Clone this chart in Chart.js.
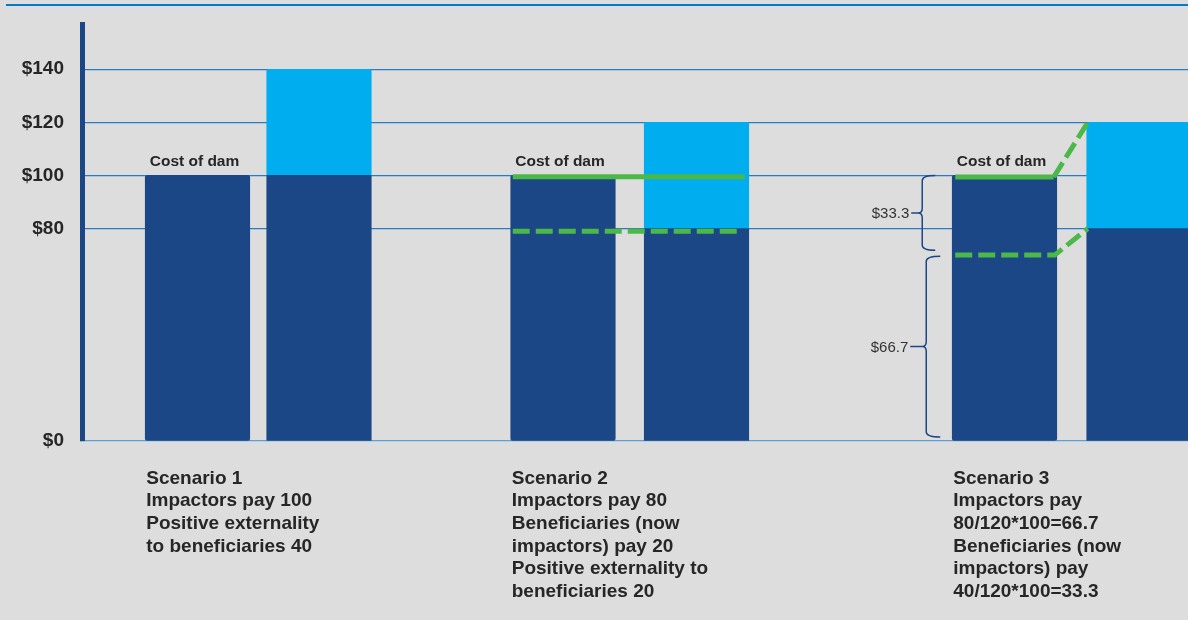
<!DOCTYPE html>
<html><head><meta charset="utf-8">
<script src="https://cdn.jsdelivr.net/npm/chart.js@4/dist/chart.umd.min.js"></script>
<style>html,body{margin:0;padding:0;background:#dddddd;} #wrap{width:1188px;height:620px;position:relative;}</style>
</head><body><div id="wrap"><canvas id="c" width="1188" height="620"></canvas></div>
<script>
// ---- data ----
const barSlots = [0.9506, 1.9506, 3.9588, 5.0576, 7.5926, 8.6996]; // x-scale units (bar slots)
const impactorsPay = [100, 100, 100, 80, 100, 80];
const externality = [0, 40, 0, 40, 0, 40];
const yTicks = [0, 80, 100, 120, 140];
const costLabel = 'Cost of dam';
const costBarIndex = [0, 2, 4];
const scenarioLabels = [
  ['Scenario 1', 'Impactors pay 100', 'Positive externality', 'to beneficiaries 40'],
  ['Scenario 2', 'Impactors pay 80', 'Beneficiaries (now', 'impactors) pay 20', 'Positive externality to', 'beneficiaries 20'],
  ['Scenario 3', 'Impactors pay', '80/120*100=66.7', 'Beneficiaries (now', 'impactors) pay', '40/120*100=33.3']
];
const greenSolid = [99.5, 99.4];   // scenario 2, scenario 3
const greenDashed = [79, 70];      // scenario 2, scenario 3
const braceRanges = [[100, 71.8], [69.6, 1.5]];
const braceLabels = ['$33.3', '$66.7'];

const DARK = '#1b4787', LIGHT = '#00adee', GREEN = '#4cb848', GRID = '#2a7cc1';
const FONT = '"Liberation Sans", Arial, sans-serif';

const overlay = {
  id: 'overlay',
  beforeDraw(chart) {
    const ctx = chart.ctx;
    ctx.save();
    ctx.fillStyle = '#0a78c8';
    ctx.fillRect(6, 4, chart.width - 6, 2);
    // extend the axis line up to the top of the frame
    const a = chart.chartArea;
    const ax = Math.round(a.left) + 0.5;
    ctx.fillStyle = DARK;
    ctx.fillRect(ax - 2.5, 22, 5, a.top - 22 + 1);
    ctx.restore();
  },
  afterDatasetsDraw(chart) {
    const ctx = chart.ctx;
    const y = chart.scales.y;
    const bars = chart.getDatasetMeta(0).data;
    const L = b => b.x - b.width / 2, R = b => b.x + b.width / 2;
    ctx.save();
    // Cost of dam labels
    ctx.fillStyle = '#262626';
    ctx.font = 'bold 15.5px ' + FONT;
    ctx.textAlign = 'center';
    ctx.textBaseline = 'alphabetic';
    costBarIndex.forEach(i => {
      ctx.fillText(costLabel, bars[i].x - 3, y.getPixelForValue(impactorsPay[i]) - 9);
    });
    // scenario labels
    ctx.font = 'bold 19px ' + FONT;
    ctx.textAlign = 'left';
    scenarioLabels.forEach((lines, s) => {
      const b = bars[costBarIndex[s]];
      lines.forEach((t, k) => ctx.fillText(t, L(b) + 1, 483.5 + k * 22.7));
    });
    // green lines
    ctx.strokeStyle = GREEN;
    ctx.lineWidth = 5;
    ctx.lineCap = 'butt';
    const b2 = bars[2], b3 = bars[3], b4 = bars[4], b5 = bars[5];
    // scenario 2
    ctx.setLineDash([]);
    ctx.beginPath();
    ctx.moveTo(L(b2) + 2, y.getPixelForValue(greenSolid[0]));
    ctx.lineTo(R(b3) - 4, y.getPixelForValue(greenSolid[0]));
    ctx.stroke();
    ctx.setLineDash([17, 6]);
    ctx.beginPath();
    ctx.moveTo(L(b2) + 2, y.getPixelForValue(greenDashed[0]));
    ctx.lineTo(R(b3) - 6, y.getPixelForValue(greenDashed[0]));
    ctx.stroke();
    // scenario 3
    ctx.setLineDash([]);
    ctx.beginPath();
    ctx.moveTo(L(b4) + 3, y.getPixelForValue(greenSolid[1]));
    ctx.lineTo(R(b4) - 3, y.getPixelForValue(greenSolid[1]));
    ctx.stroke();
    ctx.setLineDash([17, 6]);
    ctx.beginPath();
    ctx.moveTo(R(b4) - 3, y.getPixelForValue(greenSolid[1]));
    ctx.lineTo(L(b5) + 1, y.getPixelForValue(impactorsPay[5] + externality[5]));
    ctx.stroke();
    ctx.beginPath();
    ctx.moveTo(L(b4) + 3, y.getPixelForValue(greenDashed[1]));
    ctx.lineTo(R(b4) - 2, y.getPixelForValue(greenDashed[1]));
    ctx.lineTo(L(b5) + 1, y.getPixelForValue(impactorsPay[5]));
    ctx.stroke();
    ctx.setLineDash([]);
    // braces
    ctx.strokeStyle = DARK;
    ctx.lineWidth = 1.5;
    const geo = [[17, 30, 41], [12, 26, 42]];
    braceRanges.forEach((r, k) => {
      const xEnd = L(b4) - geo[k][0], xSp = L(b4) - geo[k][1], xTip = L(b4) - geo[k][2];
      const yT = y.getPixelForValue(r[0]), yB = y.getPixelForValue(r[1]);
      const yM = (yT + yB) / 2, rr = 5;
      ctx.beginPath();
      ctx.moveTo(xEnd, yT);
      ctx.quadraticCurveTo(xSp, yT, xSp, yT + rr);
      ctx.lineTo(xSp, yM - rr);
      ctx.quadraticCurveTo(xSp, yM, xSp - 4, yM);
      ctx.quadraticCurveTo(xSp, yM, xSp, yM + rr);
      ctx.lineTo(xSp, yB - rr);
      ctx.quadraticCurveTo(xSp, yB, xEnd, yB);
      ctx.moveTo(xSp - 4, yM);
      ctx.lineTo(xTip, yM);
      ctx.stroke();
      ctx.fillStyle = '#333333';
      ctx.font = '15px ' + FONT;
      ctx.textAlign = 'right';
      ctx.textBaseline = 'middle';
      ctx.fillText(braceLabels[k], xTip - 2, yM + 1);
    });
    ctx.restore();
  }
};

new Chart(document.getElementById('c'), {
  type: 'bar',
  data: {
    datasets: [
      { label: 'Impactors pay', data: barSlots.map((x, i) => ({ x, y: impactorsPay[i] })),
        backgroundColor: DARK, barThickness: 104.5, borderRadius: 2, borderSkipped: false },
      { label: 'Positive externality', data: barSlots.map((x, i) => ({ x, y: externality[i] })),
        backgroundColor: LIGHT, barThickness: 104.5, borderRadius: 2, borderSkipped: false }
    ]
  },
  options: {
    responsive: false,
    animation: false,
    events: [],
    layout: { padding: { top: 17, bottom: 179, left: 0, right: 0 } },
    plugins: { legend: { display: false }, tooltip: { enabled: false } },
    scales: {
      x: { type: 'linear', display: false, offset: false, stacked: true, min: 0, max: 9.1029 },
      y: {
        stacked: true, min: 0, max: 155,
        afterFit: s => { s.width = 82; },
        afterBuildTicks: s => { s.ticks = yTicks.map(v => ({ value: v })); },
        border: { display: true, color: DARK, width: 5 },
        grid: { drawTicks: false, color: c => c.tick && c.tick.value === 0 ? '#5d9fd6' : GRID, lineWidth: 1.3 },
        ticks: { padding: 18, color: '#262626', font: { family: FONT, size: 19, weight: 'bold' }, callback: v => '$' + v }
      }
    }
  },
  plugins: [overlay]
});
</script>
</body></html>
